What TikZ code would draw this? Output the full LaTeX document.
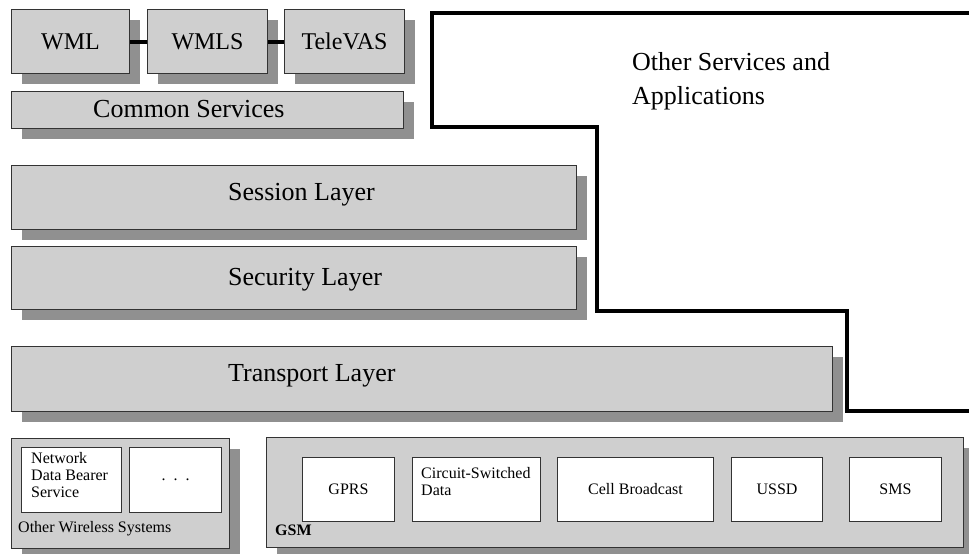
\documentclass[tikz,border=0pt]{standalone}
\usepackage{fontspec}
\setmainfont{Liberation Serif}
\usetikzlibrary{shadows}
\definecolor{boxgray}{HTML}{CFCFCF}
\definecolor{shadowgray}{HTML}{909090}
\definecolor{edgegray}{HTML}{333333}
\tikzset{
  graybox/.style={draw=edgegray, line width=1pt, fill=boxgray, inner sep=0pt, anchor=north west,
    general shadow={fill=shadowgray, shadow xshift=10pt, shadow yshift=-10pt}},
  whitebox/.style={draw=edgegray, line width=1pt, fill=white, inner sep=0pt, anchor=north west},
  bigtxt/.style={font=\fontsize{26}{34}\selectfont, inner sep=0pt},
  midtxt/.style={font=\fontsize{24}{28}\selectfont, inner sep=0pt},
  smalltxt/.style={font=\fontsize{16}{17}\selectfont, inner sep=0pt},
  conn/.style={line width=4pt, black},
  outline/.style={line width=4pt, black, line join=miter}
}
\begin{document}
\begin{tikzpicture}[x=1pt, y=-1pt]
\useasboundingbox (0,0) rectangle (969,554);
% top row
\node[graybox, minimum width=118pt, minimum height=64pt] (wml) at (11,9) {};
\node[graybox, minimum width=120pt, minimum height=64pt] (wmls) at (147,9) {};
\node[graybox, minimum width=120pt, minimum height=64pt] (televas) at (284,9) {};
\node[midtxt] (wmlt) at (wml.center) {WML};
\node[midtxt] (wmlst) at (wmls.center) {WMLS};
\node[midtxt] (televast) at (televas.center) {TeleVAS};
\draw[conn] (wml.east) -- (wmls.west);
\draw[conn] (wmls.east) -- (televas.west);
% common services
\node[graybox, minimum width=392pt, minimum height=37pt] (common) at (11,91) {};
\node[bigtxt, anchor=west] (commont) at (93,109.5) {Common Services};
% layers
\node[graybox, minimum width=565pt, minimum height=64pt] (session) at (11,165) {};
\node[bigtxt, anchor=west] (sessiont) at (228,195) {Session Layer};
\node[graybox, minimum width=565pt, minimum height=63pt] (security) at (11,246) {};
\node[bigtxt, anchor=west] (securityt) at (228,280) {Security Layer};
\node[graybox, minimum width=821pt, minimum height=65pt] (transport) at (11,346) {};
\node[bigtxt, anchor=west] (transportt) at (228,376) {Transport Layer};
% other services outline
\draw[outline] (432,127) -- (432,13) -- (975,13);
\draw[outline] (430,127) -- (597,127) -- (597,311) -- (847,311) -- (847,411) -- (975,411);
\node[bigtxt, anchor=west, align=left] (other) at (632,81) {Other Services and\\Applications};
% other wireless systems
\node[graybox, minimum width=218pt, minimum height=110pt] (ows) at (11,438) {};
\node[whitebox, minimum width=100pt, minimum height=65pt] (ndbs) at (21,447) {};
\node[whitebox, minimum width=92pt, minimum height=65pt] (dots) at (129,447) {};
\node[smalltxt, anchor=north west, align=left] (ndbst) at (31,452) {Network\\Data Bearer\\Service};
\node[smalltxt] (dotst) at (dots.center) {.~~.~~.};
\node[smalltxt, anchor=west] (owst) at (18,529) {Other Wireless Systems};
% GSM
\node[graybox, minimum width=697pt, minimum height=110pt] (gsm) at (266,437) {};
\node[whitebox, minimum width=92pt, minimum height=64pt] (gprs) at (302,457) {};
\node[whitebox, minimum width=128pt, minimum height=64pt] (csd) at (412,457) {};
\node[whitebox, minimum width=156pt, minimum height=64pt] (cb) at (557,457) {};
\node[whitebox, minimum width=91pt, minimum height=64pt] (ussd) at (731,457) {};
\node[whitebox, minimum width=92pt, minimum height=64pt] (sms) at (849,457) {};
\node[smalltxt] (gprst) at (gprs.center) {GPRS};
\node[smalltxt, anchor=north west, align=left] (csdt) at (421,467) {Circuit-Switched\\Data};
\node[smalltxt] (cbt) at (cb.center) {Cell Broadcast};
\node[smalltxt] (ussdt) at (ussd.center) {USSD};
\node[smalltxt] (smst) at (sms.center) {SMS};
\node[smalltxt, anchor=west, font=\fontsize{16}{17}\selectfont\bfseries] (gsmt) at (275,530) {GSM};
\end{tikzpicture}
\end{document}
